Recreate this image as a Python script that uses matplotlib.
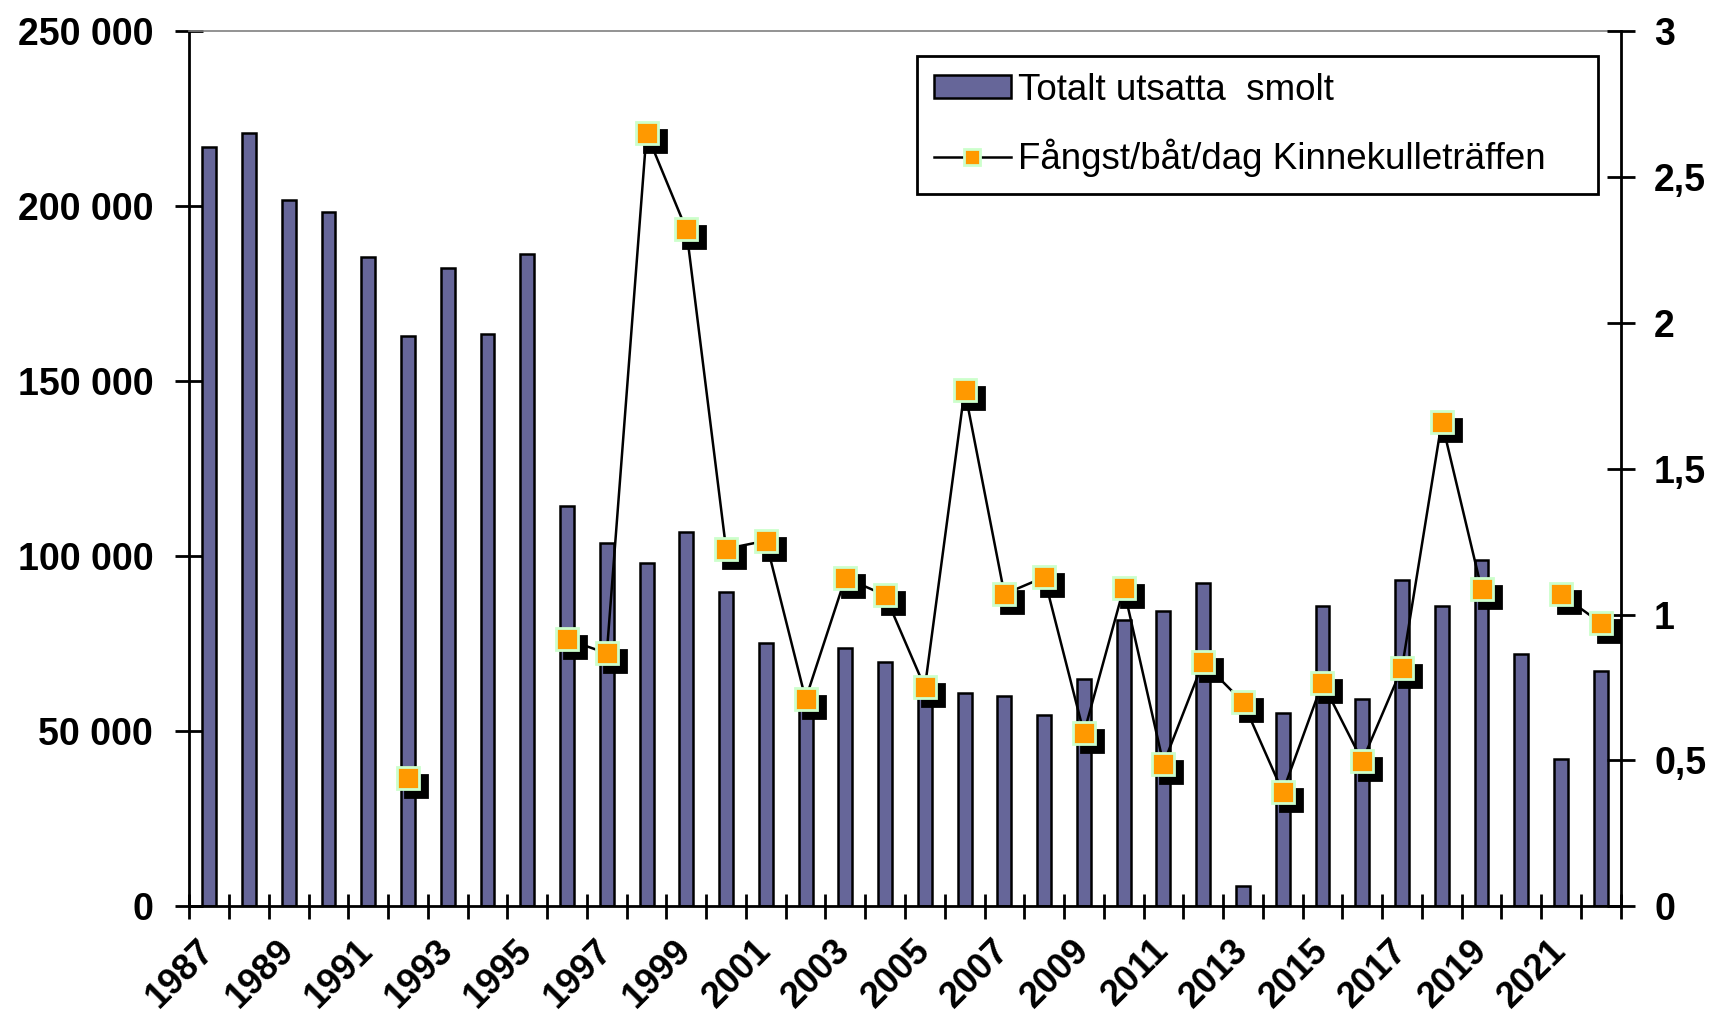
import numpy as np
import matplotlib
matplotlib.use('Agg')
import matplotlib.pyplot as plt
from matplotlib import transforms
from matplotlib.lines import Line2D
from matplotlib.patches import Patch

plt.rcParams['font.family'] = ['Liberation Sans', 'DejaVu Sans']

# ---------------- data ----------------
years = list(range(1987, 2023))
smolt = [217000, 221000, 201600, 198400, 185500, 162800, 182200, 163600, 186300,
         114200, 103900, 98100, 106900, 89900, 75300, 57000, 73800, 69800,
         65000, 60800, 60000, 54500, 64900, 81700, 84300, 92300, 5800, 55300,
         85900, 59200, 93100, 85900, 98800, 72000, 42100, 67200]
catch = [None, None, None, None, None, 0.44, None, None, None,
         0.915, 0.867, 2.65, 2.32, 1.225, 1.253, 0.71, 1.126, 1.066,
         0.75, 1.77, 1.07, 1.128, 0.594, 1.09, 0.488, 0.837, 0.70, 0.392,
         0.767, 0.498, 0.817, 1.661, 1.088, None, 1.069, 0.971]
left_ticks = [0, 50000, 100000, 150000, 200000, 250000]
left_labels = ['0', '50 000', '100 000', '150 000', '200 000', '250 000']
right_ticks = [0, 0.5, 1, 1.5, 2, 2.5, 3]
right_labels = ['0', '0,5', '1', '1,5', '2', '2,5', '3']
xtick_labels = [str(y) for y in years[::2]]
bar_label = 'Totalt utsatta  smolt'
line_label = 'Fångst/båt/dag Kinnekulleträffen'

BAR_COLOR = '#666699'
MARK_COLOR = '#FF9900'
MARK_EDGE = '#CCFFCC'

W, H = 1713, 1013
fig = plt.figure(figsize=(W / 100, H / 100), dpi=100)
x0, x1, ytop, ybot = 189.3, 1620.7, 31.0, 906.3
ax = fig.add_axes([x0 / W, 1 - ybot / H, (x1 - x0) / W, (ybot - ytop) / H])

x = np.arange(len(years))
ax.bar(x, smolt, width=0.35, color=BAR_COLOR, edgecolor='black', linewidth=1.8, zorder=2)
ax.set_xlim(-0.5, len(years) - 0.5)
ax.set_ylim(0, 250000)

ax.set_yticks(left_ticks, left_labels)
ax.tick_params(axis='y', direction='inout', length=20, width=2, pad=16,
               labelsize=27)
for t in ax.get_yticklabels():
    t.set_fontweight('bold')

ax.set_xticks(np.arange(-0.5, len(years), 1.0))
ax.set_xticklabels([])
ax.set_xticks(x[::2], xtick_labels, minor=True, rotation=45, ha='right',
              va='center', rotation_mode='anchor', fontweight='bold')
ax.tick_params(axis='x', which='major', direction='inout', length=18, width=2)
ax.tick_params(axis='x', which='minor', length=0, pad=28, labelsize=26)

for s in ['left', 'bottom']:
    ax.spines[s].set_linewidth(2)
    ax.spines[s].set_color('black')
ax.spines['top'].set_color('#808080')
ax.spines['top'].set_linewidth(1.2)
ax.spines['right'].set_visible(False)

ax2 = ax.twinx()
ax2.set_ylim(0, 3)
ax2.set_yticks(right_ticks, right_labels)
ax2.tick_params(axis='y', direction='inout', length=20, width=2, pad=14,
                labelsize=27)
for t in ax2.get_yticklabels():
    t.set_fontweight('bold')
for s in ['left', 'top', 'bottom']:
    ax2.spines[s].set_visible(False)
ax2.spines['right'].set_linewidth(2)

c = np.array([np.nan if v is None else v for v in catch], dtype=float)
ax2.plot(x, c, color='black', lw=1.8, zorder=2)
shadow_tr = transforms.offset_copy(ax2.transData, fig=fig, x=8, y=-8, units='dots')
ax2.plot(x, c, ls='none', marker='s', ms=16.5, mfc='black', mec='black', mew=2,
         transform=shadow_tr, zorder=3)
ax2.plot(x, c, ls='none', marker='s', ms=16.5, mfc=MARK_COLOR, mec=MARK_EDGE,
         mew=2, zorder=4)

handles = [Patch(facecolor=BAR_COLOR, edgecolor='black', linewidth=1.8),
           Line2D([], [], color='black', lw=1.8, marker='s', ms=11.5,
                  mfc=MARK_COLOR, mec=MARK_EDGE, mew=2)]
lx0, lx1, lyt, lyb = 917, 1598, 56, 193
leg = fig.legend(handles, [bar_label, line_label], loc='upper left',
                 bbox_to_anchor=(lx0 / W, 1 - lyb / H, (lx1 - lx0) / W, (lyb - lyt) / H),
                 bbox_transform=fig.transFigure, mode='expand', borderaxespad=0,
                 fontsize=26.5, frameon=True, fancybox=False, edgecolor='black',
                 framealpha=1, handlelength=2.1, handleheight=0.55,
                 handletextpad=0.2, borderpad=0.45, labelspacing=0.85)
leg.get_frame().set_linewidth(2)

fig.savefig('out.png', dpi=100)
